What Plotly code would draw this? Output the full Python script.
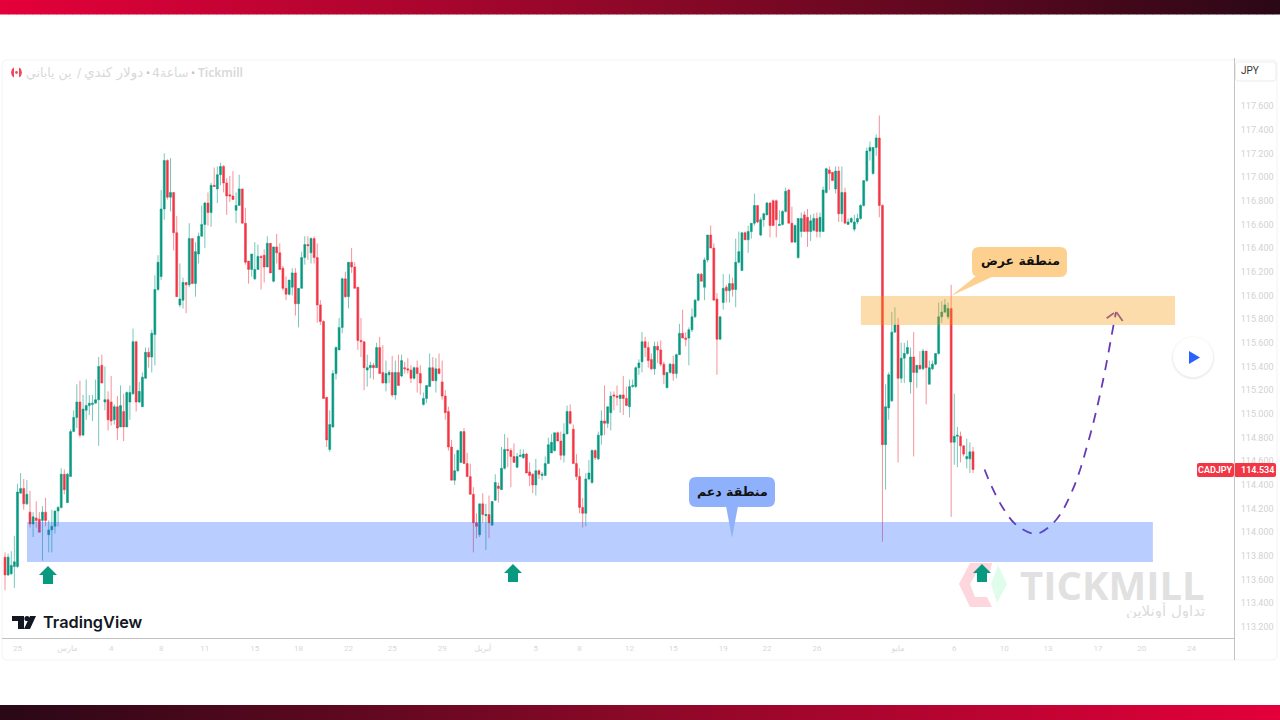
import plotly.graph_objects as go

opens = [
113.79,113.64,113.65,113.71,113.71,114.33,114.37,114.24,114.17,114.07,
114.12,114.11,114.10,114.17,113.98,114.02,114.05,114.18,114.21,114.49,
114.25,114.47,114.85,114.97,115.10,114.82,115.03,115.07,115.08,115.09,
115.12,115.41,115.10,115.12,115.10,114.95,115.06,114.89,115.02,114.89,
115.10,115.17,115.61,115.10,115.06,115.30,115.52,115.48,115.67,116.05,
116.16,116.73,117.14,116.83,116.87,116.53,115.92,115.96,116.11,116.09,
116.48,116.10,116.35,116.50,116.60,116.78,116.70,116.93,116.90,117.02,
117.09,116.95,116.85,116.84,116.72,116.76,116.90,116.61,116.29,116.22,
116.14,116.22,116.33,116.34,116.24,116.44,116.12,116.41,116.36,116.23,
116.06,116.01,116.07,116.19,115.93,116.06,116.32,116.43,116.36,116.48,
116.32,115.92,115.78,115.14,114.70,114.89,115.34,115.54,115.73,116.14,
115.99,116.28,116.24,116.07,115.62,115.61,115.37,115.39,115.41,115.39,
115.56,115.35,115.26,115.33,115.35,115.16,115.35,115.32,115.39,115.38,
115.37,115.30,115.39,115.34,115.08,115.13,115.23,115.39,115.28,115.38,
115.27,115.15,115.02,114.72,114.44,114.52,114.59,114.85,114.58,114.47,
114.32,114.08,113.98,114.24,114.14,114.15,114.06,114.27,114.39,114.36,
114.54,114.70,114.69,114.64,114.55,114.64,114.63,114.66,114.51,114.49,
114.40,114.52,114.48,114.48,114.58,114.67,114.69,114.84,114.77,114.65,
114.83,115.02,114.87,114.58,114.47,114.21,114.16,114.45,114.42,114.69,
114.62,114.82,114.94,114.92,115.01,115.16,115.15,115.13,115.16,115.13,
115.06,115.23,115.23,115.39,115.44,115.61,115.56,115.46,115.38,115.57,
115.54,115.42,115.22,115.35,115.42,115.34,115.50,115.68,115.64,115.64,
115.71,115.82,115.96,116.18,116.07,116.30,116.51,116.40,115.97,115.63,
115.94,116.07,116.04,116.10,116.05,116.28,116.21,116.53,116.47,116.54,
116.61,116.76,116.51,116.64,116.68,116.78,116.80,116.80,116.59,116.60,
116.71,116.89,116.61,116.45,116.32,116.54,116.68,116.66,116.54,116.55,
116.65,116.54,116.54,116.87,117.06,117.04,116.90,117.05,116.69,116.87,
116.60,116.62,116.56,116.62,116.65,116.76,116.97,117.22,117.03,117.25,
117.33,116.76,114.74,115.05,115.11,115.69,115.75,115.30,115.47,115.51,
115.27,115.48,115.35,115.41,115.38,115.53,115.25,115.38,115.42,115.51,
115.82,115.86,115.82,115.89,114.76,114.81,114.81,114.73,114.62,114.62,
114.68]
highs = [
113.83,113.82,113.84,113.97,114.41,114.50,114.45,114.44,114.35,114.17,
114.26,114.17,114.22,114.29,114.10,114.19,114.18,114.22,114.54,114.53,
114.50,114.87,115.03,115.25,115.28,115.16,115.29,115.16,115.16,115.29,
115.48,115.50,115.40,115.19,115.32,115.08,115.15,115.24,115.17,115.19,
115.24,115.72,115.61,115.27,115.35,115.56,115.56,115.71,116.17,116.34,
116.89,117.20,117.15,117.16,116.87,116.67,116.27,116.15,116.11,116.61,
116.48,116.45,116.53,116.76,116.79,116.87,116.95,117.08,117.09,117.12,
117.10,116.99,117.01,117.05,116.87,117.02,116.90,116.74,116.29,116.35,
116.45,116.43,116.34,116.39,116.50,116.44,116.41,116.52,116.44,116.25,
116.16,116.13,116.23,116.23,116.06,116.37,116.50,116.50,116.49,116.50,
116.44,115.96,115.79,115.14,115.03,115.37,115.57,115.81,116.15,116.20,
116.28,116.40,116.28,116.07,115.81,115.61,115.50,115.44,115.43,115.60,
115.65,115.58,115.45,115.37,115.49,115.45,115.50,115.50,115.44,115.47,
115.41,115.40,115.45,115.41,115.18,115.24,115.51,115.48,115.47,115.51,
115.45,115.20,115.06,114.78,114.66,114.70,114.85,114.88,114.67,114.58,
114.38,114.16,114.24,114.33,114.24,114.31,114.26,114.49,114.42,114.72,
114.83,114.80,114.71,114.75,114.67,114.70,114.70,114.67,114.59,114.50,
114.62,114.53,114.51,114.64,114.80,114.83,114.84,114.85,114.85,114.92,
115.07,115.08,114.91,114.66,114.54,114.29,114.50,114.61,114.70,114.70,
114.85,115.03,115.24,115.06,115.19,115.19,115.24,115.16,115.32,115.23,
115.29,115.29,115.40,115.46,115.69,115.65,115.61,115.51,115.61,115.61,
115.62,115.44,115.35,115.43,115.49,115.51,115.76,115.88,115.69,115.73,
115.89,115.97,116.19,116.19,116.32,116.51,116.59,116.44,116.02,115.82,
116.18,116.09,116.18,116.15,116.48,116.54,116.53,116.54,116.59,116.61,
116.86,116.76,116.66,116.70,116.79,116.79,116.81,116.81,116.72,116.72,
116.91,116.90,116.75,116.60,116.65,116.70,116.71,116.73,116.68,116.69,
116.70,116.70,116.92,117.08,117.09,117.04,117.09,117.09,117.09,116.91,
116.65,116.66,116.68,116.69,116.77,116.97,117.25,117.30,117.25,117.36,
117.52,116.77,115.25,115.35,115.86,115.90,115.81,115.60,115.60,115.62,
115.56,115.69,115.41,115.53,115.55,115.53,115.45,115.45,115.51,115.94,
115.95,115.97,115.94,116.09,115.17,114.89,114.85,114.73,114.79,114.76,
114.72]
lows = [
113.51,113.63,113.64,113.53,113.70,114.33,114.19,114.23,114.04,113.96,
114.04,114.00,113.76,114.05,113.83,113.83,113.99,114.05,114.20,114.32,
114.25,114.47,114.85,114.88,114.80,114.82,114.95,114.99,114.94,115.09,
114.73,115.26,115.03,114.86,114.90,114.91,114.78,114.89,114.77,114.89,
114.95,115.16,115.02,115.09,115.06,115.30,115.39,115.35,115.41,116.04,
116.13,116.64,116.81,116.71,116.38,115.99,115.90,115.89,115.85,116.07,
116.10,115.99,116.27,116.50,116.40,116.59,116.58,116.92,116.78,116.93,
116.87,116.68,116.79,116.81,116.61,116.76,116.61,116.26,116.10,116.16,
116.13,116.22,116.05,116.11,116.24,116.19,116.11,116.27,116.22,116.04,
115.96,116.00,116.00,115.83,115.73,116.06,116.26,116.30,116.27,116.27,
115.77,115.75,115.13,114.72,114.68,114.88,115.29,115.54,115.68,115.98,
115.89,116.19,116.06,115.54,115.48,115.20,115.23,115.30,115.29,115.39,
115.34,115.26,115.19,115.26,115.14,115.12,115.24,115.31,115.34,115.34,
115.26,115.29,115.18,115.16,115.07,115.09,115.23,115.28,115.18,115.34,
115.12,114.95,114.69,114.44,114.40,114.51,114.59,114.58,114.47,114.32,
113.83,113.95,113.96,114.08,113.85,113.95,114.06,114.27,114.25,114.36,
114.53,114.55,114.38,114.59,114.54,114.64,114.62,114.50,114.39,114.33,
114.31,114.45,114.44,114.48,114.58,114.67,114.68,114.77,114.61,114.59,
114.83,114.91,114.58,114.44,114.16,114.04,114.05,114.44,114.41,114.61,
114.61,114.74,114.82,114.88,114.86,115.03,115.07,115.01,114.99,115.07,
114.97,115.22,115.22,115.33,115.35,115.48,115.39,115.37,115.33,115.43,
115.40,115.25,115.22,115.34,115.28,115.30,115.50,115.64,115.57,115.41,
115.69,115.81,115.95,116.12,115.96,116.28,116.40,115.96,115.33,115.63,
115.88,115.94,115.94,115.99,115.90,116.27,116.21,116.47,116.36,116.48,
116.59,116.61,116.50,116.58,116.68,116.49,116.59,116.49,116.59,116.59,
116.70,116.61,116.45,116.45,116.31,116.49,116.54,116.41,116.46,116.54,
116.49,116.49,116.54,116.86,116.89,116.97,116.86,116.62,116.62,116.61,
116.60,116.61,116.54,116.60,116.64,116.75,116.96,117.14,117.02,117.18,
116.66,113.92,114.36,114.95,115.10,115.69,114.59,115.26,115.26,115.50,
115.17,114.64,115.22,115.37,115.37,115.08,115.25,115.37,115.41,115.50,
115.77,115.85,115.80,114.13,114.57,114.55,114.59,114.64,114.54,114.50,
114.50]
closes = [
113.64,113.79,113.72,113.75,114.34,114.37,114.24,114.32,114.07,114.13,
114.10,114.00,114.17,114.10,114.02,114.05,114.18,114.21,114.49,114.36,
114.49,114.85,114.97,115.10,114.82,115.04,115.07,115.09,115.09,115.12,
115.40,115.26,115.12,114.95,114.94,115.06,114.88,115.07,114.89,115.18,
115.18,115.61,115.10,115.19,115.31,115.52,115.48,115.68,116.05,116.28,
116.73,117.14,116.83,116.87,116.53,115.99,115.97,116.11,116.09,116.48,
116.10,116.37,116.50,116.60,116.78,116.70,116.93,116.92,117.02,117.09,
116.95,116.84,116.84,116.81,116.76,116.90,116.61,116.28,116.22,116.35,
116.22,116.33,116.32,116.24,116.44,116.19,116.41,116.36,116.22,116.06,
116.01,116.13,116.19,115.93,116.06,116.32,116.43,116.42,116.48,116.32,
115.92,115.78,115.13,114.78,114.91,115.34,115.56,115.73,116.14,115.99,
116.28,116.24,116.06,115.62,115.61,115.39,115.39,115.41,115.39,115.56,
115.34,115.26,115.34,115.35,115.16,115.35,115.24,115.45,115.38,115.37,
115.30,115.39,115.34,115.26,115.13,115.24,115.39,115.28,115.38,115.34,
115.15,115.01,114.72,114.44,114.52,114.69,114.85,114.58,114.47,114.32,
114.08,114.05,114.24,114.15,114.15,114.08,114.26,114.42,114.37,114.54,
114.70,114.69,114.64,114.59,114.64,114.65,114.66,114.50,114.48,114.40,
114.52,114.49,114.49,114.58,114.74,114.76,114.84,114.77,114.65,114.83,
115.02,114.92,114.58,114.47,114.21,114.16,114.45,114.50,114.69,114.63,
114.82,114.94,114.92,115.06,115.15,115.15,115.14,115.16,115.13,115.07,
115.23,115.24,115.39,115.43,115.61,115.56,115.45,115.38,115.57,115.54,
115.42,115.33,115.35,115.42,115.34,115.50,115.68,115.64,115.63,115.71,
115.82,115.96,116.18,116.12,116.30,116.51,116.40,115.96,115.63,115.82,
116.06,116.04,116.10,116.05,116.28,116.37,116.53,116.47,116.54,116.61,
116.76,116.62,116.64,116.69,116.78,116.59,116.59,116.64,116.60,116.71,
116.88,116.61,116.45,116.59,116.65,116.65,116.54,116.54,116.63,116.65,
116.54,116.66,116.89,117.07,117.03,116.97,117.05,116.69,116.87,116.61,
116.62,116.65,116.62,116.65,116.76,116.97,117.22,117.25,117.25,117.33,
116.76,114.74,115.06,115.33,115.69,115.75,115.30,115.47,115.51,115.56,
115.48,115.35,115.41,115.38,115.53,115.39,115.39,115.42,115.51,115.82,
115.86,115.92,115.89,114.76,114.81,114.82,114.73,114.66,114.64,114.68,
114.53]

price_ticks = [113.2,113.4,113.6,113.8,114.0,114.2,114.4,114.6,114.8,115.0,115.2,
               115.4,115.6,115.8,116.0,116.2,116.4,116.6,116.8,117.0,117.2,117.4,117.6]
date_tick_index = [4,20,34,50,64,80,94,110,124,140,153,170,184,200,214,230,244,260,286,304,320,334,350,364,380]
date_tick_text = ["25","مارس","4","8","11","15","18","22","25","29","أبريل","5","8","12","15","19","22","26","مايو","6","10","13","17","20","24"]

path_index = [313.7,316.0,319.7,323.5,328.8,331.5,336.8,342.1,347.5,351.7,355.0,355.8]
path_price = [114.53,114.385,114.20,114.07,113.99,113.996,114.11,114.37,114.82,115.29,115.75,115.86]
head_index = [352.8,355.8,358.1]
head_price = [115.807,115.863,115.778]

support_zone = dict(x0=7.05, x1=367.6, y0=113.749, y1=114.086)
supply_zone = dict(x0=274.1, x1=374.7, y0=115.75, y1=115.995)
last_price = "114.534"

L, T, R, B = 2, 60, 1234, 638
def X(px): return (px - L) / (R - L)
def Y(py): return (B - py) / (B - T)

def lerp_hex(stops, t):
    for (t0, c0), (t1, c1) in zip(stops, stops[1:]):
        if t <= t1:
            f = (t - t0) / (t1 - t0)
            return "rgb(%d,%d,%d)" % tuple(round(a + (b - a) * f) for a, b in zip(c0, c1))
    return "rgb(%d,%d,%d)" % stops[-1][1]

shapes = []
def rect(x0, y0, x1, y1, fill, line=None, lw=0, layer="above"):
    shapes.append(dict(type="rect", xref="paper", yref="paper", x0=X(x0), x1=X(x1), y0=Y(y0), y1=Y(y1),
                       fillcolor=fill, line=dict(color=line or fill, width=lw), layer=layer))
def poly(pts, fill, layer="above", line_color=None, lw=0):
    d = "M" + " L".join(f"{X(a):.5f},{Y(b):.5f}" for a, b in pts) + " Z"
    shapes.append(dict(type="path", xref="paper", yref="paper", path=d, fillcolor=fill,
                       line=dict(color=line_color or fill, width=lw), layer=layer))
def rrect(x0, y0, x1, y1, r, fill, line=None, lw=0):
    d = (f"M{X(x0+r):.5f},{Y(y0):.5f} L{X(x1-r):.5f},{Y(y0):.5f} Q{X(x1):.5f},{Y(y0):.5f} {X(x1):.5f},{Y(y0+r):.5f} "
         f"L{X(x1):.5f},{Y(y1-r):.5f} Q{X(x1):.5f},{Y(y1):.5f} {X(x1-r):.5f},{Y(y1):.5f} "
         f"L{X(x0+r):.5f},{Y(y1):.5f} Q{X(x0):.5f},{Y(y1):.5f} {X(x0):.5f},{Y(y1-r):.5f} "
         f"L{X(x0):.5f},{Y(y0+r):.5f} Q{X(x0):.5f},{Y(y0):.5f} {X(x0+r):.5f},{Y(y0):.5f} Z")
    shapes.append(dict(type="path", xref="paper", yref="paper", path=d, fillcolor=fill,
                       line=dict(color=line or fill, width=lw), layer="above"))
def circle(cx, cy, r, fill):
    shapes.append(dict(type="circle", xref="paper", yref="paper", x0=X(cx-r), x1=X(cx+r), y0=Y(cy+r), y1=Y(cy-r),
                       fillcolor=fill, line=dict(width=0), layer="above"))

# gradient bands
stops = [(0, (228, 0, 58)), (0.5, (140, 8, 40)), (1, (42, 8, 22))]
seg = 8
for i in range(0, 1280, seg):
    t = i / 1280
    rect(i, 0, i + seg + 0.5, 14.5, lerp_hex(stops, t))
    rect(i, 705, i + seg + 0.5, 720, lerp_hex(stops, 1 - t))

# card and axis lines
rrect(2, 60, 1277, 660, 5, "rgba(0,0,0,0)", "#f3f3f3", 1)
rect(2, 638, 1234, 639, "#c2c2c2")
rect(1234, 58, 1235, 660, "#c2c2c2")
rrect(1235.5, 62, 1276, 81, 3, "#ffffff", "#ececec", 1)

# zones
for z, col in ((support_zone, "rgba(41,98,255,0.32)"), (supply_zone, "rgba(250,150,0,0.33)")):
    shapes.append(dict(type="rect", xref="x", yref="y", line=dict(width=0), fillcolor=col, layer="above", **z))

# watermark logo
poly([(970,563),(959,584),(970,607),(992,607),(987,597),(975,597),(970,584),(977,572),(990,572),(992,563)], "#fed6de")
poly([(998,565),(1007,584),(997,603),(991,584)], "#dffdea")

# arrows
for cx, top in ((48, 566), (513, 564), (982, 564)):
    poly([(cx, top), (cx+9, top+9), (cx+5, top+9), (cx+5, top+18), (cx-5, top+18), (cx-5, top+9), (cx-9, top+9)],
         "#089981")

# callouts
rrect(972, 247, 1067, 277, 7, "#fdd08f")
poly([(976, 276), (994, 276), (951, 296)], "#fdd08f")
rrect(689, 477, 775, 507, 7, "#8fb0fb")
poly([(726, 506), (738, 506), (732, 538)], "#8fb0fb")

# TradingView logo
poly([(12,616),(24,616),(24,629),(18,629),(18,621),(12,621)], "#131722")
circle(27, 618.5, 2.6, "#131722")
poly([(24,629),(30,616),(36,616),(30,629)], "#131722")

# header flag
poly([(14,67.5),(14,77.5),(12,76),(11,72.5),(12,69)], "#f2465a")
poly([(19,67.5),(19,77.5),(21,76),(22,72.5),(21,69)], "#f2465a")
circle(16.5, 72.5, 1.4, "#f2465a")

# price label
rrect(1197, 463, 1234, 477, 2, "#f23645")
rrect(1234, 463, 1276, 477, 2, "#f23645")
rect(1234, 463, 1235, 477, "#d0c4c4")

# play button
circle(1193, 358, 22, "rgba(0,0,0,0.025)")
circle(1193, 358, 21, "rgba(0,0,0,0.04)")
circle(1193, 357, 20, "#ffffff")
poly([(1189,351),(1200,357.5),(1189,364)], "#2962ff")

AR = "DejaVu Sans"
def note(px, py, text, size, color, anchor="center", family="Roboto", weight=None, **kw):
    font = dict(size=size, color=color, family=family)
    if weight: font["weight"] = weight
    return dict(xref="paper", yref="paper", x=X(px), y=Y(py), text=text, showarrow=False,
                xanchor=anchor, yanchor="middle", font=font, borderpad=0, **kw)

HEAD = "#d9d9d9"
annotations = [
    note(244, 72.5, "Tickmill", 12, HEAD, "right", "Noto Sans", 600),
    note(193, 72.5, "•", 11, "#c4c4c4", "center", "Noto Sans"),
    note(189, 72.5, "4ساعة", 12.5, HEAD, "right", AR),
    note(148, 72.5, "•", 11, "#c4c4c4", "center", "Noto Sans"),
    note(144, 72.5, "دولار كندي", 13.5, HEAD, "right", AR),
    note(79, 72.5, "/", 12, HEAD, "center", AR),
    note(73, 72.5, "ين ياباني", 12.5, HEAD, "right", AR),
    note(1240, 71, "JPY", 10, "#333333", "left", "Roboto"),
    note(1215.5, 470, "CADJPY", 9, "#ffffff", "center", "Roboto", 600),
    note(1257, 470, last_price, 9, "#ffffff", "center", "Roboto", 600),
    note(1020, 260, "منطقة عرض", 12.5, "#111111", "center", AR, 600),
    note(732, 491, "منطقة دعم", 12.5, "#111111", "center", AR, 600),
    note(1112, 584, "TICKMILL", 40, "#e1e1e1", "center", "Open Sans", 700, height=34),
    note(1206, 610, "تداول أونلاين", 15, "#dcdcdc", "right", AR, height=16),
    note(42, 622, "TradingView", 16.3, "#131722", "left", "Inter", 600),
]

fig = go.Figure()
fig.add_trace(go.Candlestick(
    x=list(range(len(opens))), open=opens, high=highs, low=lows, close=closes,
    increasing=dict(line=dict(color="rgba(8,153,129,0.55)", width=1), fillcolor="#089981"),
    decreasing=dict(line=dict(color="rgba(242,54,69,0.55)", width=1), fillcolor="#f23645"),
    whiskerwidth=0, showlegend=False,
))
fig.add_trace(go.Scatter(x=path_index, y=path_price, mode="lines", showlegend=False,
                         line=dict(color="#673ab7", width=1.8, dash="10px,8px", shape="spline")))
fig.add_trace(go.Scatter(x=head_index, y=head_price, mode="lines", showlegend=False,
                         line=dict(color="#7a4fb0", width=1.8, dash="9px,3px,11px")))

step = 3.1226
fig.update_layout(
    width=1280, height=720, paper_bgcolor="#ffffff", plot_bgcolor="#ffffff",
    margin=dict(l=L, r=1280 - R, t=T, b=720 - B, autoexpand=False),
    shapes=shapes, annotations=annotations, showlegend=False, dragmode=False, boxgap=0.12,
    xaxis=dict(range=[(L - 5) / step, (R - 5) / step], rangeslider=dict(visible=False), showgrid=False, zeroline=False,
               tickmode="array", tickvals=date_tick_index, ticktext=date_tick_text, ticks="outside", ticklen=2,
               tickcolor="rgba(0,0,0,0)", tickfont=dict(size=8, color="#d8d8d8", family="Roboto, DejaVu Sans"),
               showline=False, fixedrange=True),
    yaxis=dict(range=[113.107, 117.9885], side="right", showgrid=False, zeroline=False, tickmode="array",
               tickvals=price_ticks, ticktext=[f"{v:.3f}" for v in price_ticks], ticks="outside", ticklen=4,
               tickcolor="rgba(0,0,0,0)", tickfont=dict(size=9, color="#d2d2d2", family="Roboto"),
               showline=False, fixedrange=True),
)

fig.write_html("out.html", config=dict(displayModeBar=False),
               post_script="document.body.style.margin='0';document.body.style.overflow='hidden';")
